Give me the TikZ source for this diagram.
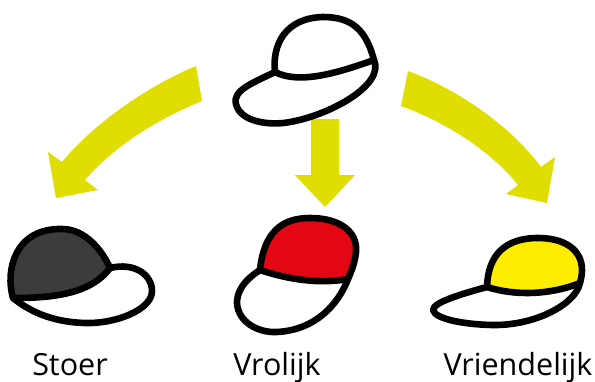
\documentclass[tikz,border=0pt]{standalone}
\usepackage{fontspec}
\setmainfont{Open Sans}
\usepackage{xcolor}
\definecolor{pijlgeel}{HTML}{E0DD00}
\definecolor{petgrijs}{HTML}{3C3C3B}
\definecolor{petrood}{HTML}{E30613}
\definecolor{petgeel}{HTML}{FFED00}
\tikzset{
  petlijn/.style={draw=black, line width=6.6pt, line join=round},
  pijl/.style={fill=pijlgeel},
  naam/.style={anchor=base, font=\fontsize{30.5}{30.5}\selectfont}
}

\begin{document}
\begin{tikzpicture}[x=1pt,y=-1pt]
\useasboundingbox (0,0) rectangle (595,381);

% pijlen
\fill[pijl] (196,66) .. controls (150,85) and (95,122) .. (62,162) -- (48,152) -- (56,198) -- (98,190) -- (85,180) .. controls (115,145) and (160,118) .. (202,101) -- cycle;
\fill[pijl] (311,119) -- (339,119) -- (339,175) -- (355,175) -- (325,207) -- (295,175) -- (311,175) -- cycle;
\fill[pijl] (408,71) .. controls (455,88) and (510,125) .. (541,167) -- (555,157) -- (547,203) -- (506,194) -- (518,185) .. controls (490,150) and (445,122) .. (401,106) -- cycle;

% pet boven
\draw[petlijn, fill=white] (275,72) .. controls (255,82) and (232,90) .. (236,104) .. controls (240,122) and (270,126) .. (290,122) .. controls (330,115) and (385,85) .. (374,60) -- cycle;
\draw[petlijn, fill=white] (275,72) .. controls (272,45) and (285,18) .. (323,17) .. controls (352,17) and (366,30) .. (374,60) .. controls (340,72) and (300,85) .. (275,72) -- cycle;

% pet links
\draw[petlijn, fill=white] (110,268) .. controls (135,262) and (152,275) .. (152,291) .. controls (152,310) and (115,324) .. (85,323) .. controls (50,322) and (28,310) .. (13,298) -- cycle;
\draw[petlijn, fill=petgrijs] (13,298) .. controls (5,270) and (15,228) .. (62,229) .. controls (85,229) and (102,250) .. (110,268) .. controls (90,295) and (50,298) .. (13,298) -- cycle;

% pet midden
\draw[petlijn, fill=white] (260,270) .. controls (240,283) and (237,295) .. (237,303) .. controls (238,322) and (258,333) .. (277,332) .. controls (315,330) and (338,305) .. (348,279) -- cycle;
\draw[petlijn, fill=petrood] (260,270) .. controls (264,232) and (282,218) .. (310,218) .. controls (340,218) and (358,232) .. (356,252) .. controls (355,262) and (352,270) .. (348,279) .. controls (320,284) and (290,280) .. (260,270) -- cycle;

% pet rechts
\draw[petlijn, fill=white] (487,287) .. controls (465,293) and (433,302) .. (433,310) .. controls (435,320) and (470,325) .. (495,325) .. controls (535,325) and (575,305) .. (580,283) -- cycle;
\draw[petlijn, fill=petgeel] (487,287) .. controls (488,255) and (505,238) .. (538,238) .. controls (565,238) and (582,250) .. (582,270) .. controls (582,275) and (581,279) .. (580,283) .. controls (550,295) and (515,296) .. (487,287) -- cycle;

\node[naam] (stoer) at (70,375) {Stoer};
\node[naam] (vrolijk) at (277,375) {Vrolijk};
\node[naam] (vriendelijk) at (518,375) {Vriendelijk};
\end{tikzpicture}
\end{document}
